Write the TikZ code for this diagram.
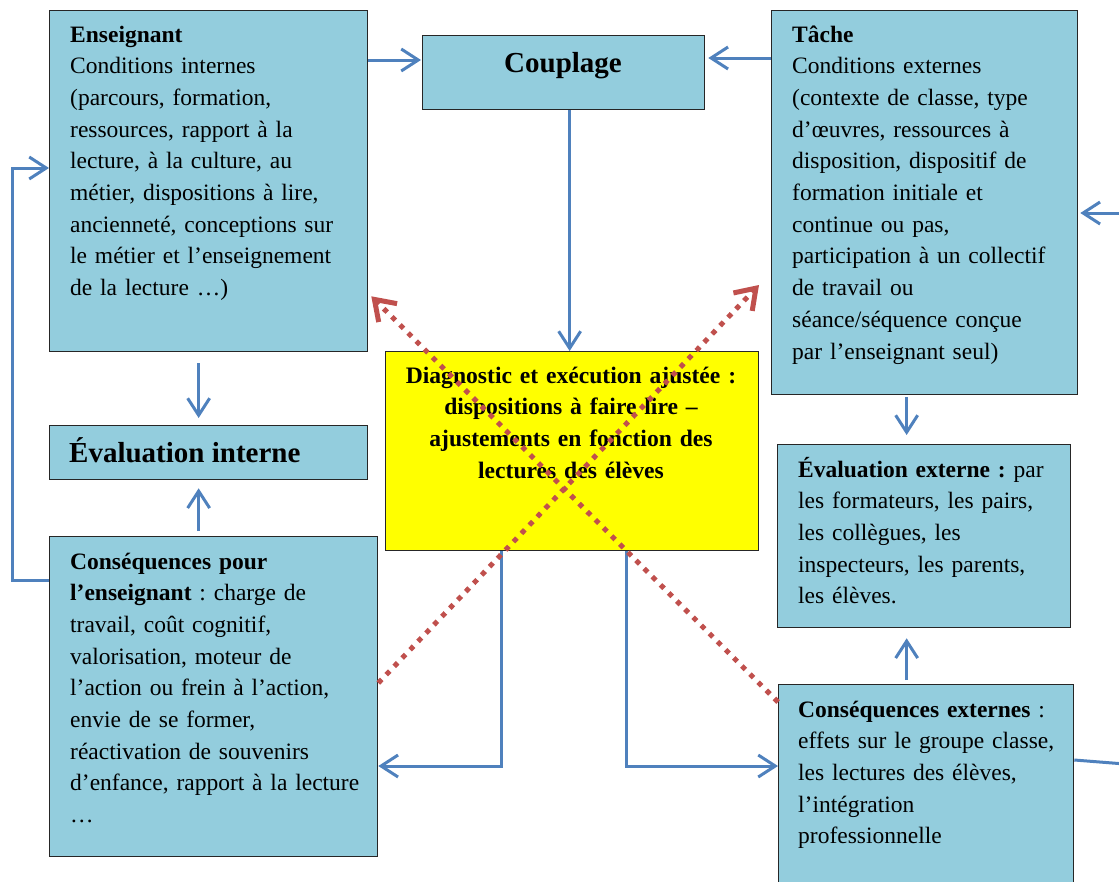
\documentclass[tikz,border=0pt]{standalone}
\usepackage{fontspec}
\setmainfont{Liberation Serif}
\usetikzlibrary{arrows.meta,calc}
\definecolor{boxblue}{HTML}{93CDDD}
\definecolor{arrowblue}{HTML}{4F81BD}
\definecolor{dotred}{HTML}{C0504D}
\definecolor{diagyellow}{HTML}{FFFF00}
\frenchspacing
\begin{document}
\begin{tikzpicture}[x=1pt,y=-1pt,
  box/.style={draw=black!85, line width=1.3pt, fill=boxblue, inner sep=0pt, anchor=north west},
  ybox/.style={box, fill=diagyellow},
  txt/.style={inner sep=0pt, align=left, anchor=base west, font=\fontsize{23.5}{31.7}\selectfont\frenchspacing},
  ctxt/.style={inner sep=0pt, align=center, anchor=base, font=\fontsize{23.6}{31.7}\selectfont\bfseries\frenchspacing},
  bigtxt/.style={inner sep=0pt, font=\fontsize{29}{34}\selectfont\bfseries},
  bline/.style={draw=arrowblue, line width=3pt},
  barrow/.style={bline, -{Straight Barb[length=17pt,width=22pt]}},
  rarrow/.style={draw=dotred, line width=5pt, dash pattern=on 5pt off 6.5pt, -{Straight Barb[length=19pt,width=26pt]}}
]
\useasboundingbox (0,0) rectangle (1119,881);
\clip (0,0) rectangle (1119,881);

% boxes
\node[box, minimum width=318pt, minimum height=341pt] (ens) at (49,10) {};
\node[box, minimum width=282pt, minimum height=74pt] (coup) at (422,35) {};
\node[box, minimum width=306pt, minimum height=384pt] (tache) at (771,10) {};
\node[box, minimum width=318pt, minimum height=54pt] (evint) at (49,425) {};
\node[ybox, minimum width=373pt, minimum height=199pt] (diag) at (385,351) {};
\node[box, minimum width=293pt, minimum height=183pt] (evext) at (777,444) {};
\node[box, minimum width=328pt, minimum height=320pt] (consens) at (49,536) {};
\node[box, minimum width=295pt, minimum height=210pt] (consext) at (778,684) {};

% texts
\node[txt, text width=295pt] (ensT) at (70,42) {\textbf{Enseignant}\\
Conditions internes\\
(parcours, formation,\\
ressources, rapport à la\\
lecture, à la culture, au\\
métier, dispositions à lire,\\
ancienneté, conceptions sur\\
le métier et l’enseignement\\
de la lecture …)};

\node[bigtxt, anchor=base] (coupT) at (563,72) {Couplage};

\node[txt, text width=285pt] (tacheT) at (792,42) {\textbf{Tâche}\\
Conditions externes\\
(contexte de classe, type\\
d’œuvres, ressources à\\
disposition, dispositif de\\
formation initiale et\\
continue ou pas,\\
participation à un collectif\\
de travail ou\\
séance/séquence conçue\\
par l’enseignant seul)};

\node[bigtxt, anchor=base west] (evintT) at (69,462) {Évaluation interne};

\node[ctxt, text width=365pt] (diagT) at (571,383) {Diagnostic et exécution ajustée :\\
dispositions à faire lire –\\
ajustements en fonction des\\
lectures des élèves};

\node[txt, text width=280pt] (evextT) at (798,477) {\textbf{Évaluation externe :} par\\
les formateurs, les pairs,\\
les collègues, les\\
inspecteurs, les parents,\\
les élèves.};

\node[txt, text width=310pt] (consensT) at (70,569) {\textbf{Conséquences pour}\\
\textbf{l’enseignant} : charge de\\
travail, coût cognitif,\\
valorisation, moteur de\\
l’action ou frein à l’action,\\
envie de se former,\\
réactivation de souvenirs\\
d’enfance, rapport à la lecture\\
…};

\node[txt, text width=310pt] (consextT) at (798,717) {\textbf{Conséquences externes} :\\
effets sur le groupe classe,\\
les lectures des élèves,\\
l’intégration\\
professionnelle};

% helper coordinates
\coordinate (a1) at ([yshift=-50pt]ens.north east);
\coordinate (a2) at ([yshift=-48pt]tache.north west);
\coordinate (c0) at ([xshift=6pt]coup.south);
\coordinate (e0) at ([xshift=-10pt]ens.south);
\coordinate (e1) at ([xshift=-15pt]consens.north);
\coordinate (l1) at ([yshift=-44pt]consens.north west);
\coordinate (l2) at ([yshift=-158pt]ens.north west);
\coordinate (d1) at ([xshift=116pt]diag.south west);
\coordinate (c1) at ([yshift=-230pt]consens.north east);
\coordinate (d2) at ([xshift=241pt]diag.south west);
\coordinate (c2) at ([yshift=-82pt]consext.north west);
\coordinate (t0) at ([xshift=-18pt]tache.south);
\coordinate (t1) at ([xshift=-19.5pt]consext.north);
\coordinate (rin) at (1125,213);
\coordinate (o1) at ([yshift=-76pt]consext.north east);
\coordinate (rout) at (1125,764);

% blue connectors
\draw[barrow, shorten >=1pt] (a1) -- (a1 -| coup.west);
\draw[barrow, shorten >=3pt] (a2) -- (a2 -| coup.east);
\draw[barrow] (c0) -- (c0 |- diag.north);
\draw[barrow, shorten <=11pt, shorten >=7pt] (e0) -- (e0 |- evint.north);
\draw[barrow, shorten <=5pt, shorten >=8pt] (e1) -- (e1 |- evint.south);
\draw[barrow] (l1) -- ++(-37,0) |- (l2);
\draw[barrow] (d1) |- (c1);
\draw[barrow] (d2) |- (c2);
\draw[barrow, shorten <=2pt, shorten >=9pt] (t0) -- (t0 |- evext.north);
\draw[barrow, shorten <=4pt, shorten >=10pt] (t1) -- (t1 |- evext.south);
\draw[barrow, shorten >=2pt] (rin) -- (rin -| tache.east);
\draw[bline] (o1) -- (rout);

% red dotted arrows
\coordinate (r1s) at ([yshift=-147pt]consens.north east);
\coordinate (r1e) at ([xshift=-12pt,yshift=-275pt]tache.north west);
\coordinate (r2s) at ([yshift=-18pt]consext.north west);
\coordinate (r2e) at ([xshift=3pt,yshift=56pt]ens.south east);
\draw[rarrow] (r1s) -- (r1e);
\draw[rarrow] (r2s) -- (r2e);
\end{tikzpicture}
\end{document}
